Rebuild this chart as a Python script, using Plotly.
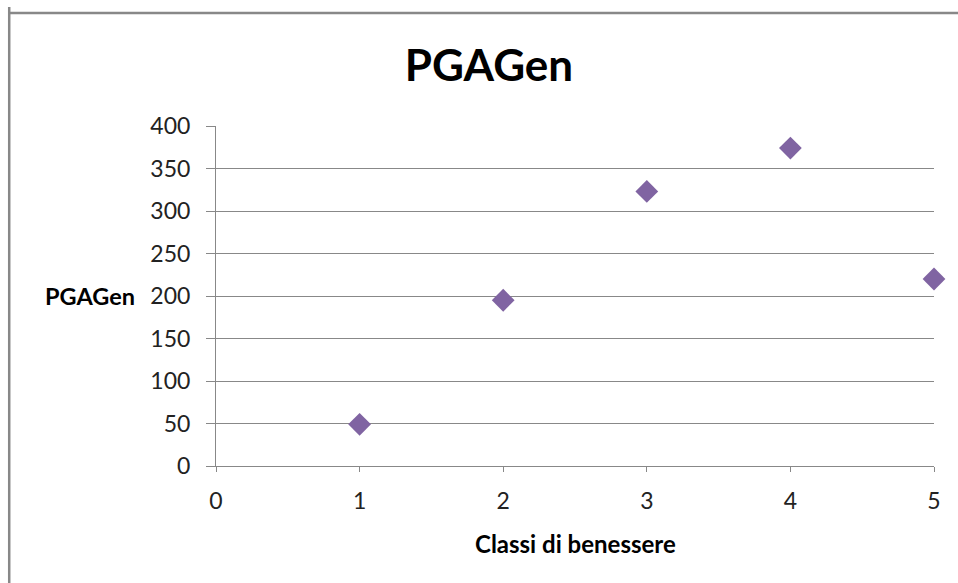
import plotly.graph_objects as go

classi = [1, 2, 3, 4, 5]
pgagen = [49, 195, 323, 374, 220]
x_ticks = [0, 1, 2, 3, 4, 5]
y_ticks = [0, 50, 100, 150, 200, 250, 300, 350, 400]

FONT = "Lato, 'Open Sans', sans-serif"
GRID = "#888888"

fig = go.Figure()
fig.add_trace(go.Scatter(
    x=classi, y=pgagen, mode="markers",
    marker=dict(symbol="diamond", size=17.5, color="#8064A2"),
    showlegend=False, cliponaxis=False,
))

fig.update_layout(
    width=958, height=583,
    margin=dict(l=216, r=24, t=126, b=117),
    paper_bgcolor="white", plot_bgcolor="white",
    font=dict(family=FONT, size=23, color="#222222"),
    title=dict(text="<b>PGAGen</b>", x=0.5104, xanchor="center", y=0.888, yanchor="middle",
               font=dict(family=FONT, size=44, color="black")),
    xaxis=dict(
        range=[0, 5], tickvals=x_ticks, showgrid=False, zeroline=False,
        showline=True, linecolor=GRID, linewidth=1,
        ticks="outside", ticklen=5, tickcolor=GRID, ticklabelstandoff=9,
        tickfont=dict(size=23),
    ),
    yaxis=dict(
        range=[0, 400], tickvals=y_ticks, showgrid=True, gridcolor=GRID, gridwidth=1,
        zeroline=False, showline=True, linecolor=GRID, linewidth=1,
        ticks="outside", ticklen=9, tickcolor=GRID, ticklabelstandoff=11,
        tickfont=dict(size=23),
    ),
    annotations=[
        dict(text="<b>PGAGen</b>", xref="paper", yref="y", x=-0.110, y=200, xanchor="right",
             yanchor="middle", showarrow=False, font=dict(family=FONT, size=23.5, color="black")),
        dict(text="<b>Classi di benessere</b>", xref="paper", yref="paper", x=0.5, y=-0.229,
             xanchor="center", yanchor="middle", showarrow=False,
             font=dict(family=FONT, size=24, color="black")),
    ],
)

# outer chart border (left and top visible)
fig.add_shape(type="line", xref="paper", yref="paper", x0=-0.288, x1=-0.288, y0=-0.4, y1=1.35,
              line=dict(color="#888888", width=2.5))
fig.add_shape(type="line", xref="paper", yref="paper", x0=-0.288, x1=1.2, y0=1.332, y1=1.332,
              line=dict(color="#888888", width=2.5))

fig.write_html("out.html")
